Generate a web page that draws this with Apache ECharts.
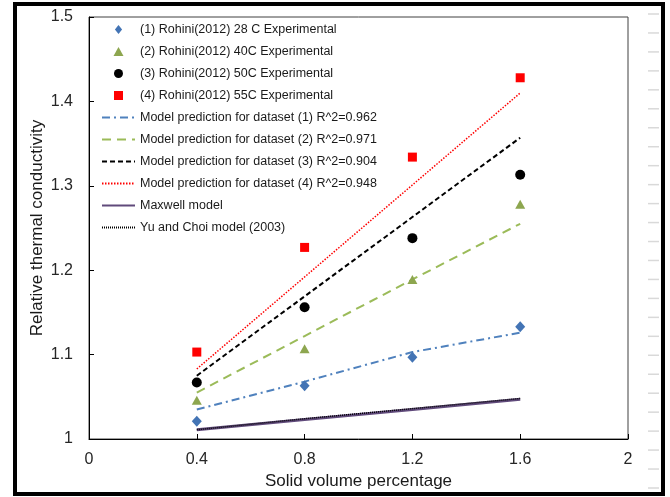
<!DOCTYPE html>
<html>
<head>
<meta charset="utf-8">
<script src="https://cdn.jsdelivr.net/npm/echarts@6/dist/echarts.min.js"></script>
<style>
html,body{margin:0;padding:0;background:#fff;}
#chart{width:670px;height:497px;}
</style>
</head>
<body>
<div id="chart"></div>
<script>
// ---- data ----
const xValues = [0.4, 0.8, 1.2, 1.6];
const exp28 = [1.021, 1.063, 1.097, 1.133];
const exp40 = [1.046, 1.107, 1.189, 1.278];
const exp50 = [1.067, 1.156, 1.238, 1.313];
const exp55 = [1.103, 1.227, 1.334, 1.428];
const model1 = [1.035, 1.068, 1.103, 1.126];
const model2 = [1.055, 1.122, 1.189, 1.255];
const model3 = [1.075, 1.169, 1.263, 1.357];
const model4 = [1.083, 1.192, 1.301, 1.410];
const maxwell = [1.011, 1.023, 1.035, 1.047];
const yuChoi = [1.011, 1.024, 1.036, 1.048];
const seriesNames = [
  '(1) Rohini(2012) 28 C Experimental',
  '(2) Rohini(2012) 40C Experimental',
  '(3) Rohini(2012) 50C Experimental',
  '(4) Rohini(2012) 55C Experimental',
  'Model prediction for dataset (1) R^2=0.962',
  'Model prediction for dataset (2) R^2=0.971',
  'Model prediction for dataset (3) R^2=0.904',
  'Model prediction for dataset (4) R^2=0.948',
  'Maxwell model',
  'Yu and Choi model (2003)'
];
const xTitle = 'Solid volume percentage';
const yTitle = 'Relative thermal conductivity';

function pairs(ys) { return xValues.map((x, i) => [x, ys[i]]); }

const FONT = 'Liberation Sans, Arial, sans-serif';

const ICONS = {
  diamond: 'path://M0,-1L0.8,0L0,1L-0.8,0Z',
  triangle: 'path://M0,-1L1,0.8L-1,0.8Z',
  circle: 'path://M1,0A1,1,0,1,1,-1,0A1,1,0,1,1,1,0Z',
  rect: 'path://M0,0H1V1H0Z'
};

function scatter(name, ys, symbol, size, color) {
  return { name, type: 'scatter', data: pairs(ys), symbol, symbolSize: size,
    itemStyle: { color, opacity: 1 }, z: 5 };
}
function line(name, ys, color, width, dash) {
  return { name, type: 'line', data: pairs(ys), symbol: 'none', showSymbol: false,
    lineStyle: { color, width, type: dash }, itemStyle: { color }, z: 3 };
}

const series = [
  scatter(seriesNames[0], exp28, 'diamond', [10, 11], '#4374B5'),
  scatter(seriesNames[1], exp40, 'triangle', [10, 9], '#8DA64F'),
  scatter(seriesNames[2], exp50, 'circle', 10, '#000000'),
  scatter(seriesNames[3], exp55, 'rect', 9, '#FF0000'),
  line(seriesNames[4], model1, '#4F81BD', 2, [8, 4, 2, 4]),
  line(seriesNames[5], model2, '#9BBB59', 2, [9, 6]),
  line(seriesNames[6], model3, '#000000', 2, [5, 3]),
  line(seriesNames[7], model4, '#FF0000', 1.5, [1.5, 1.5]),
  line(seriesNames[8], maxwell, '#604A7B', 3, 'solid'),
  line(seriesNames[9], yuChoi, '#000000', 1.5, [1, 1])
];

const legendData = seriesNames.map((name, i) => {
  if (i === 0) return { name, icon: ICONS.diamond, itemStyle: { opacity: 1 } };
  if (i === 1) return { name, icon: ICONS.triangle, itemStyle: { opacity: 1 } };
  if (i === 2) return { name, icon: ICONS.circle, itemStyle: { opacity: 1 } };
  if (i === 3) return { name, icon: ICONS.rect, itemStyle: { opacity: 1 } };
  return { name, itemStyle: { opacity: 0 } };
});

// decorative faint tick marks along the right edge of the frame
const edgeTicks = [];
for (let k = 0; k < 26; k++) {
  const y = 14 + 18.96 * k;
  edgeTicks.push({ type: 'line', shape: { x1: 648, y1: y, x2: 659, y2: y },
    style: { stroke: '#d9d9d9', lineWidth: 1.5 }, silent: true });
}

const chart = echarts.init(document.getElementById('chart'), null, { renderer: 'canvas' });
chart.setOption({
  animation: false,
  backgroundColor: '#ffffff',
  textStyle: { fontFamily: FONT },
  grid: { left: 89, right: 42, top: 17, bottom: 58, show: true,
    borderColor: '#404040', borderWidth: 1, backgroundColor: 'transparent' },
  xAxis: {
    type: 'value', min: 0, max: 2, interval: 0.4,
    name: xTitle, nameLocation: 'middle', nameGap: 34, nameMoveOverlap: false,
    nameTextStyle: { fontSize: 17, color: '#1a1a1a', fontFamily: FONT },
    axisLine: { show: true, lineStyle: { color: '#000', width: 1 } },
    axisTick: { show: true, inside: true, length: 5, lineStyle: { color: '#000' } },
    axisLabel: { fontSize: 16, color: '#262626', margin: 13, fontFamily: FONT },
    splitLine: { show: false }
  },
  yAxis: {
    type: 'value', min: 1, max: 1.5, interval: 0.1,
    name: yTitle, nameLocation: 'middle', nameGap: 43, nameMoveOverlap: false,
    nameTextStyle: { fontSize: 17, color: '#1a1a1a', fontFamily: FONT },
    axisLine: { show: true, lineStyle: { color: '#000', width: 1 } },
    axisTick: { show: true, inside: true, length: 5, lineStyle: { color: '#000' } },
    axisLabel: { fontSize: 16, color: '#262626', margin: 16, fontFamily: FONT },
    splitLine: { show: false }
  },
  legend: {
    orient: 'vertical', left: 101, top: 23, padding: 0,
    itemWidth: 33, itemHeight: 9, itemGap: 9,
    symbolKeepAspect: true,
    textStyle: { fontSize: 12.5, color: '#1a1a1a', fontFamily: FONT },
    data: legendData
  },
  graphic: [
    { type: 'rect', shape: { x: 15, y: 4, width: 648, height: 490 },
      style: { fill: 'none', stroke: '#000', lineWidth: 4 }, silent: true, z: 100 }
  ].concat(edgeTicks),
  series
});
</script>
</body>
</html>
